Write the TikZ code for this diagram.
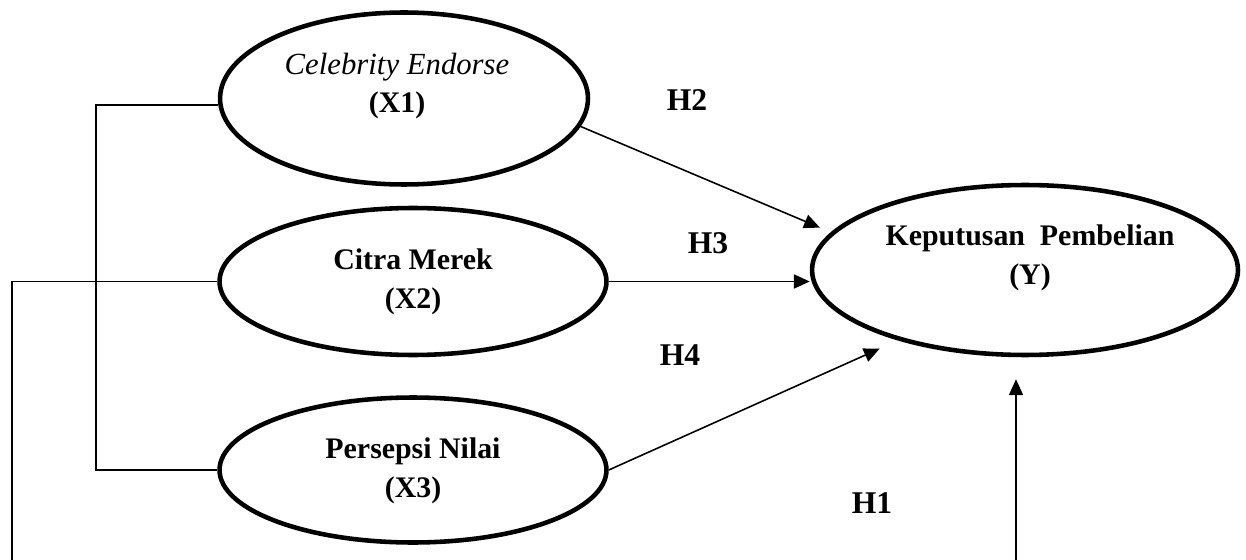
\documentclass[tikz,border=0pt]{standalone}
\usepackage{fontspec}
\setmainfont{Liberation Serif}
\usetikzlibrary{shapes.geometric,arrows.meta}
\tikzset{
  latent/.style={ellipse, draw, line width=2.6pt, inner sep=0pt},
  varname/.style={font=\fontsize{17}{22}\selectfont\bfseries, align=center},
  hyp/.style={font=\fontsize{18}{20}\selectfont\bfseries},
  link/.style={line width=0.9pt},
  effect/.style={link, -{Triangle[length=9pt,width=8pt]}}
}
\begin{document}
\begin{tikzpicture}[x=0.02cm,y=-0.02cm]
			\useasboundingbox (0,0) rectangle (1246,560);
			% constructs
			\node[latent, minimum width=7.36cm, minimum height=3.44cm] (X1) at (404,98.5) {};
			\node[latent, minimum width=7.74cm, minimum height=2.94cm] (X2) at (413,281.5) {};
			\node[latent, minimum width=7.74cm, minimum height=2.9cm] (X3) at (413,470) {};
			\node[latent, minimum width=8.52cm, minimum height=3.4cm] (Y) at (1025,270) {};
			\node[varname] (tX1) at (397,86) {{\fontsize{17.5}{22}\selectfont\mdseries\itshape Celebrity Endorse}\\(X1)};
			\node[varname] (tX2) at (413,282) {Citra Merek\\(X2)};
			\node[varname] (tX3) at (413,471) {Persepsi Nilai\\(X3)};
			\node[varname] (tY) at (1030,258) {Keputusan\ \ Pembelian\\(Y)};
			% hypotheses
			\node[hyp] (h2) at (687,100) {H2};
			\node[hyp] (h3) at (708,243) {H3};
			\node[hyp] (h4) at (680,355) {H4};
			\node[hyp] (h1) at (872,503) {H1};
			% paths
			\draw[effect, shorten >=0.24cm] (X1.-9) -- (Y.169);
			\draw[effect] (X2.east) -- (X2.east -| Y.west);
			\draw[effect, shorten >=0.4cm] (X3.east) -- (Y.209);
			\draw[link] (X1.182) -- ++(-122,0) |- (X3.west);
			\coordinate (baseL) at (12,560);
			\coordinate (baseR) at (1016,560);
			\draw[link] (X2.west) -| (baseL);
			\draw[effect, shorten >=0.44cm] (baseR) -- (baseR |- Y.south);
		\end{tikzpicture}
\end{document}
